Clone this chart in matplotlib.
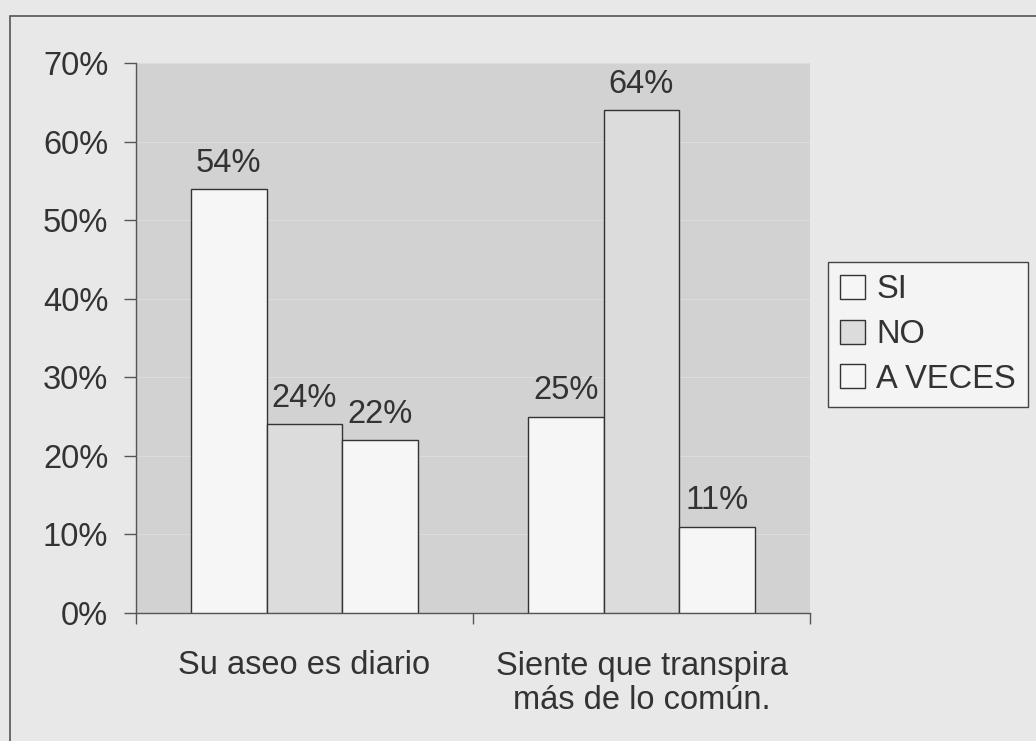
import matplotlib.pyplot as plt
import numpy as np
from matplotlib.patches import Rectangle

# ---------- data ----------
categories = ['Su aseo es diario', 'Siente que transpira\nmás de lo común.']
series_names = ['SI', 'NO', 'A VECES']
si_vals = [54, 25]
no_vals = [24, 64]
aveces_vals = [22, 11]
y_ticks = [0, 10, 20, 30, 40, 50, 60, 70]

# ---------- style ----------
plt.rcParams['font.family'] = ['Liberation Sans', 'DejaVu Sans']
fig_bg = '#e8e8e8'
plot_bg = '#d2d2d2'
bar_colors = ['#f6f6f6', '#dcdcdc', '#f6f6f6']
text_c = '#333333'
fs = 23.5

fig = plt.figure(figsize=(10.36, 7.41), dpi=100)
fig.patch.set_facecolor(fig_bg)
ax = fig.add_axes([136 / 1036, 1 - 613 / 741, 674 / 1036, 550 / 741])
ax.set_facecolor(plot_bg)

# outer frame of the chart
fig.patches.append(Rectangle((10 / 1036, -0.01), 1.0, 1 - 16 / 741 + 0.01,
                             transform=fig.transFigure, fill=False,
                             edgecolor='#555555', lw=1.2))

x = np.arange(len(categories))
w = 0.225
series = [si_vals, no_vals, aveces_vals]
for i, (name, vals) in enumerate(zip(series_names, series)):
    pos = x + (i - 1) * w
    bars = ax.bar(pos, vals, width=w, color=bar_colors[i], edgecolor='#333333',
                  lw=1.0, label=name, zorder=3)
    for b, v in zip(bars, vals):
        ax.text(b.get_x() + b.get_width() / 2, v + 1.3, f'{v}%', ha='center',
                va='bottom', fontsize=fs, color=text_c)

# faint gridlines
for t in y_ticks[1:]:
    ax.axhline(t, color='#dcdcdc', lw=0.8, zorder=1)

ax.set_xlim(-0.5, 1.5)
ax.set_ylim(0, 70)
ax.set_yticks(y_ticks)
ax.set_yticklabels([f'{t}%' for t in y_ticks], fontsize=fs, color=text_c)
ax.set_xticks(x)
ax.set_xticklabels(categories, fontsize=fs, color=text_c, linespacing=1.15)
ax.tick_params(axis='x', length=0, pad=27)
ax.tick_params(axis='y', length=9, width=1, color='#555555', pad=11)
# category separator ticks
ax.set_xticks([-0.5, 0.5, 1.5], minor=True)
ax.tick_params(axis='x', which='minor', length=8, width=1, color='#555555')

for s in ['top', 'right']:
    ax.spines[s].set_visible(False)
for s in ['left', 'bottom']:
    ax.spines[s].set_color('#555555')
    ax.spines[s].set_linewidth(1)

leg = fig.legend(loc='upper left', bbox_to_anchor=(828 / 1036, 1 - 262 / 741),
                 fontsize=fs, frameon=True, fancybox=False, handlelength=0.75,
                 handleheight=0.75, handletextpad=0.35, borderpad=0.38,
                 labelspacing=0.42, borderaxespad=0)
leg.get_frame().set_facecolor('#f4f4f4')
leg.get_frame().set_edgecolor('#444444')
leg.get_frame().set_linewidth(1)
leg.get_frame().set_alpha(1)
for t in leg.get_texts():
    t.set_color(text_c)

fig.savefig('out.png', dpi=100, facecolor=fig.get_facecolor())
